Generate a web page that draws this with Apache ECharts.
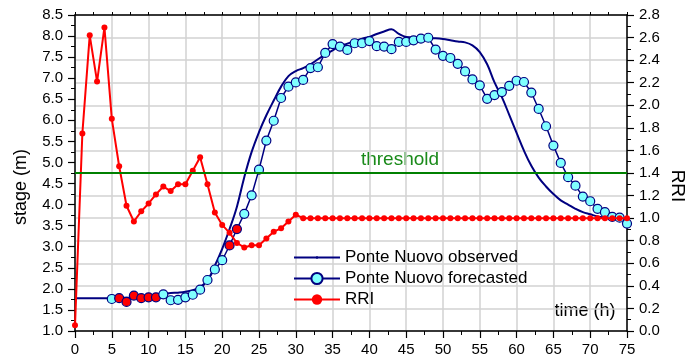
<!DOCTYPE html>
<html>
<head>
<meta charset="utf-8">
<script src="https://cdn.jsdelivr.net/npm/echarts@6/dist/echarts.min.js"></script>
<style>html,body{margin:0;padding:0;background:#fff}#c{width:687px;height:360px}</style>
</head>
<body>
<div id="c"></div>
<script>
// ---- data ----
var hours = [0,1,2,3,4,5,6,7,8,9,10,11,12,13,14,15,16,17,18,19,20,21,22,23,24,25,26,27,28,29,30,31,32,33,34,35,36,37,38,39,40,41,42,43,44,45,46,47,48,49,50,51,52,53,54,55,56,57,58,59,60,61,62,63,64,65,66,67,68,69,70,71,72,73,74,75];
var observedStage = [1.78,1.78,1.78,1.78,1.78,1.78,1.79,1.79,1.80,1.80,1.81,1.83,1.88,1.90,1.91,1.93,1.97,2.04,2.20,2.55,2.95,3.42,3.95,4.65,5.25,5.72,6.12,6.47,6.80,7.05,7.17,7.24,7.33,7.45,7.56,7.66,7.76,7.82,7.88,7.94,7.98,8.05,8.11,8.16,8.05,7.98,7.97,7.97,7.96,7.95,7.93,7.90,7.87,7.85,7.78,7.62,7.33,6.90,6.55,6.13,5.70,5.28,4.92,4.64,4.43,4.25,4.10,4.00,3.90,3.82,3.77,3.72,3.69,3.67,3.66,3.65];
var forecastHours = [5,6,7,8,9,10,11,12,13,14,15,16,17,18,19,20,21,22,23,24,25,26,27,28,29,30,31,32,33,34,35,36,37,38,39,40,41,42,43,44,45,46,47,48,49,50,51,52,53,54,55,56,57,58,59,60,61,62,63,64,65,66,67,68,69,70,71,72,73,74,75];
var forecastStage = [1.76,1.78,1.69,1.84,1.78,1.80,1.80,1.87,1.73,1.74,1.80,1.86,1.98,2.21,2.46,2.68,3.03,3.42,3.78,4.22,4.83,5.52,5.99,6.53,6.80,6.90,6.96,7.24,7.26,7.60,7.81,7.75,7.67,7.83,7.83,7.88,7.76,7.75,7.69,7.86,7.86,7.90,7.94,7.96,7.68,7.53,7.48,7.34,7.16,6.97,6.83,6.51,6.60,6.67,6.82,6.94,6.91,6.66,6.27,5.86,5.40,4.99,4.65,4.45,4.19,4.08,3.90,3.82,3.71,3.69,3.55];
var forecastRedHours = [6,7,8,9,10,11,21,22];
var rri = [0.05,1.75,2.62,2.21,2.69,1.88,1.46,1.11,0.97,1.06,1.13,1.21,1.28,1.24,1.30,1.30,1.42,1.54,1.30,1.05,0.94,0.87,0.78,0.74,0.76,0.76,0.82,0.88,0.91,0.97,1.03,1.00,1.00,1.00,1.00,1.00,1.00,1.00,1.00,1.00,1.00,1.00,1.00,1.00,1.00,1.00,1.00,1.00,1.00,1.00,1.00,1.00,1.00,1.00,1.00,1.00,1.00,1.00,1.00,1.00,1.00,1.00,1.00,1.00,1.00,1.00,1.00,1.00,1.00,1.00,1.00,1.00,1.00,1.00,1.00,1.00];
var rriThreshold = 1.4;
var seriesNames = ['Ponte Nuovo observed','Ponte Nuovo forecasted','RRI'];

// ---- styles ----
var FONT = 'Liberation Sans, Arial, sans-serif';
var NAVY = '#000080', CYAN = '#80ffff', RED = '#ff0000', GREEN = '#008000';

function pairs(xs, ys){ return xs.map(function(x,i){ return [x, ys[i]]; }); }
var forecastData = forecastHours.map(function(h,i){
  var d = {value:[h, forecastStage[i]]};
  if (forecastRedHours.indexOf(h) >= 0) d.itemStyle = {color: RED, borderColor: NAVY, borderWidth: 1.2};
  return d;
});

function legendFor(name, top, itemHeight){
  return {orient:'vertical', left:293, top:top, padding:0, itemWidth:46, itemHeight:itemHeight, itemGap:0,
    data:[name], textStyle:{color:'#000', fontSize:17, fontFamily:FONT, padding:[0,0,0,0]}};
}

var chart = echarts.init(document.getElementById('c'), null, {renderer:'canvas'});
var axisCommon = {
  axisLine:{show:true, onZero:false, lineStyle:{color:'#000', width:1.5}},
  axisTick:{show:true, length:7, lineStyle:{color:'#000', width:1.2}},
  minorTick:{show:true, splitNumber:2, length:4, lineStyle:{color:'#000', width:1}},
  axisLabel:{color:'#000', fontSize:15, fontFamily:FONT}
};
chart.setOption({
  animation:false,
  backgroundColor:'#fff',
  grid:{left:75, right:60, top:15, bottom:29},
  xAxis:[
    Object.assign({}, axisCommon, {type:'value', min:0, max:75, interval:5, position:'bottom',
      axisLabel:{color:'#000', fontSize:15, fontFamily:FONT, margin:11},
      splitLine:{show:true, lineStyle:{color:'#d2d2d2', width:1.5}}}),
    {type:'value', min:0, max:75, interval:5, position:'top',
      axisLine:{show:true, onZero:false, lineStyle:{color:'#000', width:1.5}},
      axisTick:{show:true, length:3, lineStyle:{color:'#000'}},
      minorTick:{show:true, splitNumber:2, length:3, lineStyle:{color:'#000'}},
      axisLabel:{show:false}, splitLine:{show:false}}
  ],
  yAxis:[
    Object.assign({}, axisCommon, {type:'value', min:1.0, max:8.5, interval:0.5, position:'left',
      axisLabel:{color:'#000', fontSize:15, fontFamily:FONT, margin:12, formatter:function(v){return v.toFixed(1);}},
      splitLine:{show:false}}),
    Object.assign({}, axisCommon, {type:'value', min:0, max:2.8, interval:0.2, position:'right',
      axisLabel:{color:'#000', fontSize:15, fontFamily:FONT, margin:12, formatter:function(v){return v.toFixed(1);}},
      splitLine:{show:true, lineStyle:{color:'#d2d2d2', width:1.5}}})
  ],
  legend:[
    legendFor(seriesNames[0], 249, 3),
    legendFor(seriesNames[1], 270, 14),
    legendFor(seriesNames[2], 291, 13)
  ],
  series:[
    {name:seriesNames[0], type:'line', xAxisIndex:0, yAxisIndex:0, data:pairs(hours, observedStage),
      smooth:0.4, symbol:'circle', symbolSize:2, showSymbol:false,
      lineStyle:{color:NAVY, width:2}, itemStyle:{color:NAVY}, z:2},
    {name:seriesNames[1], type:'line', xAxisIndex:0, yAxisIndex:0, data:forecastData,
      symbol:'circle', symbolSize:9,
      lineStyle:{color:NAVY, width:1.5}, itemStyle:{color:CYAN, borderColor:NAVY, borderWidth:1.2}, z:3,
      markLine:{silent:true, symbol:'none', label:{show:false},
        lineStyle:{color:GREEN, width:2, type:'solid'},
        data:[{yAxis: 1 + rriThreshold/2.8*7.5}]}},
    {name:seriesNames[2], type:'line', xAxisIndex:0, yAxisIndex:1, data:pairs(hours, rri),
      symbol:'circle', symbolSize:6,
      lineStyle:{color:RED, width:2}, itemStyle:{color:RED}, z:4}
  ],
  graphic:[
    {type:'text', x:21, y:187, rotation:Math.PI/2, style:{text:'stage (m)', font:'18px '+FONT, fill:'#000', textAlign:'center', textVerticalAlign:'middle'}},
    {type:'text', x:677, y:186, rotation:-Math.PI/2, style:{text:'RRI', font:'19px '+FONT, fill:'#000', textAlign:'center', textVerticalAlign:'middle'}},
    {type:'text', x:400, y:160, style:{text:'threshold', font:'19px '+FONT, fill:'#1a8a1a', textAlign:'center', textVerticalAlign:'middle'}},
    {type:'text', x:585, y:311, style:{text:'time (h)', font:'18px '+FONT, fill:'#000', textAlign:'center', textVerticalAlign:'middle'}}
  ]
});
</script>
</body>
</html>
